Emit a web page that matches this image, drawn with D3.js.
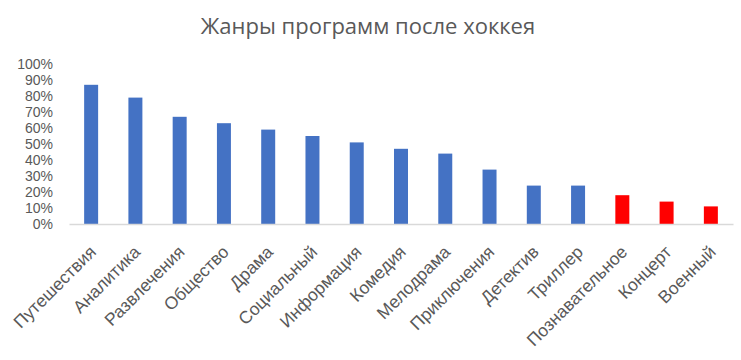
<!DOCTYPE html>
<html><head><meta charset="utf-8">
<script src="https://cdn.jsdelivr.net/npm/d3@7"></script>
<style>body{margin:0;background:#fff;} svg{display:block;}</style>
</head><body>
<svg id="chart" width="741" height="360"></svg>
<script>
const categories = ["Путешествия","Аналитика","Развлечения","Общество","Драма","Социальный","Информация","Комедия","Мелодрама","Приключения","Детектив","Триллер","Познавательное","Концерт","Военный"];
const values = [0.87,0.79,0.67,0.63,0.59,0.55,0.51,0.47,0.44,0.34,0.24,0.24,0.18,0.14,0.11];
const highlighted = ["Познавательное","Концерт","Военный"];
const yTicks = [0,0.1,0.2,0.3,0.4,0.5,0.6,0.7,0.8,0.9,1.0];

const svg = d3.select("#chart");
const font = "Liberation Sans, Arial, sans-serif";
const mLeft = 69, mRight = 733, mTop = 64, mBottom = 224;

const x = d3.scaleBand().domain(categories).range([mLeft, mRight]).paddingInner(0.684).paddingOuter(0.342);
const y = d3.scaleLinear().domain([0, 1]).range([mBottom, mTop]);

svg.append("text").attr("x", 368).attr("y", 34).attr("text-anchor", "middle")
  .attr("font-family", "Open Sans, sans-serif").attr("font-size", 22).attr("fill", "#595959")
  .text("Жанры программ после хоккея");

const yAxis = svg.append("g").attr("transform", `translate(${mLeft},0)`)
  .call(d3.axisLeft(y).tickValues(yTicks).tickFormat(d3.format(".0%")).tickSize(0).tickPadding(16));
yAxis.select(".domain").remove();
yAxis.selectAll("text").attr("font-family", font).attr("font-size", 14).attr("fill", "#595959");

svg.append("g").selectAll("rect").data(categories).join("rect")
  .attr("x", d => x(d)).attr("width", x.bandwidth())
  .attr("y", (d, i) => y(values[i])).attr("height", (d, i) => y(0) - y(values[i]))
  .attr("fill", d => highlighted.includes(d) ? "#FF0000" : "#4472C4");

const xAxis = svg.append("g").attr("transform", `translate(0,${mBottom})`)
  .call(d3.axisBottom(x).tickSize(0).tickPadding(0));
xAxis.select(".domain").attr("stroke", "#d9d9d9").attr("stroke-width", 1.3);
xAxis.selectAll("text").attr("font-family", font).attr("font-size", 17.5).attr("fill", "#595959")
  .attr("text-anchor", "end").attr("dy", 0)
  .attr("transform", "translate(6,29) rotate(-45)");
</script>
</body></html>
